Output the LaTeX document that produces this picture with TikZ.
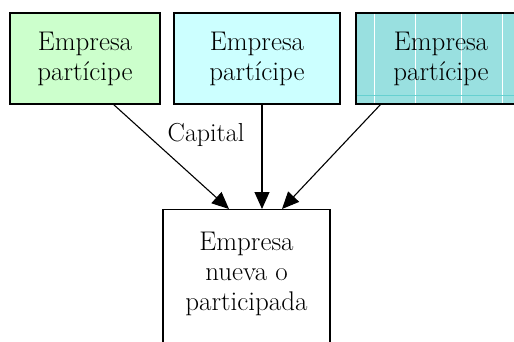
\documentclass[tikz,border=0pt]{standalone}
\usepackage{fontspec}
\usetikzlibrary{arrows.meta}
\definecolor{gA}{HTML}{CCFFCC}
\definecolor{cB}{HTML}{CCFFFF}
\definecolor{tC}{HTML}{99E0E0}
\definecolor{tL}{HTML}{66D0D0}
\begin{document}
\begin{tikzpicture}[x=1pt,y=-1pt,
  box/.style={draw=black,line width=1.3pt,align=center,font=\fontsize{27}{30}\selectfont,inner sep=0pt},
  txt/.style={align=center,font=\fontsize{27}{30}\selectfont},
  conn/.style={line width=1.1pt,-{Triangle[length=17pt,width=15pt]}}]
\useasboundingbox (0,0) rectangle (514,342);
\clip (0,0) rectangle (514,342);
\node[box,fill=gA,minimum width=150pt,minimum height=91pt] (a) at (85,58.5) {Empresa\\partícipe};
\node[box,fill=cB,minimum width=166pt,minimum height=91pt] (b) at (257,58.5) {Empresa\\partícipe};
\node[box,fill=tC,minimum width=170pt,minimum height=91pt] (c) at (441,58.5) {};
\draw[white,line width=0.8pt] (374,14) -- (374,103) (415,14) -- (415,103) (461,14) -- (461,103) (502,14) -- (502,103);
\draw[tL,line width=0.6pt] (357,95) -- (514,95);
\draw[line width=1.3pt] (c.south east) -- (c.south west) -- (c.north west) -- (c.north east);
\node[txt] (ct) at (441,58.5) {Empresa\\partícipe};
\node[box,fill=white,minimum width=167pt,minimum height=160pt,anchor=north] (d) at (246.5,209) {};
\node[txt] (dt) at (246.5,274) {Empresa\\nueva o\\participada};
\node[font=\fontsize{26}{30}\selectfont] (cap) at (206,135) {Capital};
\coordinate (a1) at (113,104);
\coordinate (a2) at (229,209);
\coordinate (b1) at (262,104);
\coordinate (b2) at (262,209);
\coordinate (c1) at (381,104);
\coordinate (c2) at (282,209);
\draw[conn] (a1) -- (a2);
\draw[conn] (b1) -- (b2);
\draw[conn] (c1) -- (c2);
\end{tikzpicture}
\end{document}
